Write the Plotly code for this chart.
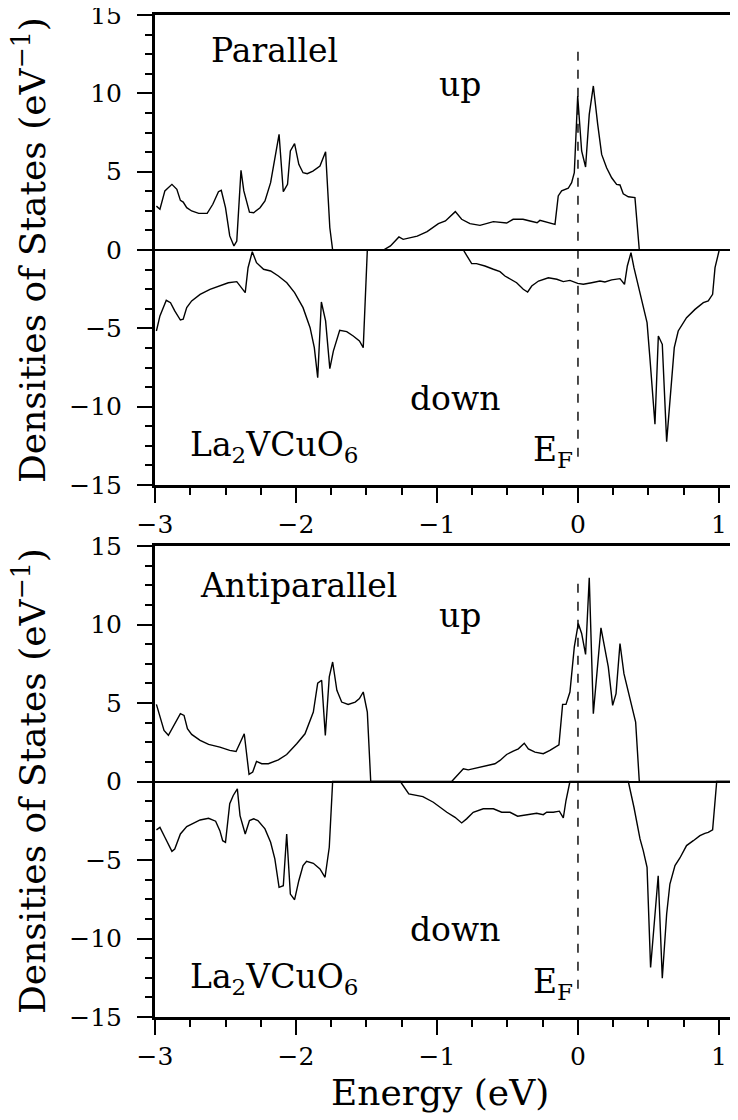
import plotly.graph_objects as go

# ---------------- data (energy in eV, DOS in states/eV) ----------------
par_up_x = [-2.99, -2.965, -2.93, -2.88, -2.845, -2.82, -2.80, -2.775, -2.74, -2.69, -2.63, -2.59,
            -2.55, -2.53, -2.50, -2.47, -2.44, -2.42, -2.39, -2.37, -2.33, -2.30, -2.255, -2.22,
            -2.18, -2.15, -2.12, -2.09, -2.06, -2.04, -2.01, -1.98, -1.95, -1.92, -1.88, -1.83,
            -1.79, -1.76, -1.74, -1.38, -1.33, -1.27, -1.24, -1.14, -1.07, -0.99, -0.94, -0.87,
            -0.825, -0.766, -0.695, -0.60, -0.506, -0.46, -0.39, -0.34, -0.29, -0.27, -0.22,
            -0.163, -0.14, -0.116, -0.069, -0.045, -0.026, -0.002, 0.026, 0.054, 0.08, 0.109,
            0.14, 0.168, 0.203, 0.239, 0.274, 0.298, 0.321, 0.357, 0.404, 0.435, 1.135]
par_up_y = [2.8, 2.6, 3.77, 4.19, 3.87, 3.17, 3.06, 2.7, 2.49, 2.34, 2.34, 2.92,
            3.72, 3.81, 2.7, 0.9, 0.26, 0.57, 5.08, 3.77, 2.42, 2.38, 2.7, 3.13,
            4.3, 5.89, 7.38, 3.72, 4.19, 6.32, 6.79, 5.47, 4.93, 4.87, 5.04, 5.36,
            6.27, 1.42, 0.0, 0.0, 0.26, 0.83, 0.68, 0.89, 1.17, 1.68, 1.85, 2.45,
            1.96, 1.68, 1.57, 1.81, 1.72, 1.96, 1.96, 1.85, 1.74, 1.89, 1.79,
            1.64, 3.45, 3.77, 3.94, 4.3, 4.93, 9.83, 6.32, 5.30, 8.66, 10.47,
            8.02, 6.1, 5.25, 4.61, 4.19, 4.15, 3.59, 3.40, 3.34, 0.0, 0.0]

par_dn_x = [-2.99, -2.965, -2.92, -2.89, -2.86, -2.82, -2.80, -2.775, -2.74, -2.68, -2.61, -2.54,
            -2.48, -2.42, -2.36, -2.34, -2.31, -2.28, -2.23, -2.18, -2.125, -2.065, -2.01, -1.95,
            -1.90, -1.87, -1.846, -1.82, -1.79, -1.76, -1.735, -1.69, -1.64, -1.594, -1.55,
            -1.523, -1.494, -0.813, -0.754, -0.72, -0.66, -0.60, -0.553, -0.518, -0.482, -0.435,
            -0.388, -0.357, -0.328, -0.28, -0.21, -0.15, -0.104, -0.057, -0.002, 0.038, 0.097,
            0.156, 0.191, 0.239, 0.298, 0.33, 0.35, 0.376, 0.397, 0.44, 0.49, 0.51, 0.546, 0.57,
            0.598, 0.629, 0.657, 0.683, 0.711, 0.77, 0.83, 0.889, 0.924, 0.955, 0.972, 1.002, 1.135]
par_dn_y = [-5.17, -4.21, -3.21, -3.36, -3.89, -4.47, -4.42, -3.68, -3.25, -2.83, -2.51, -2.30,
            -2.09, -2.02, -2.72, -1.13, -0.11, -0.81, -1.23, -1.34, -1.66, -2.09, -2.72, -3.68,
            -4.96, -6.23, -8.15, -3.32, -4.53, -7.57, -6.45, -5.13, -5.21, -5.49, -5.81,
            -6.23, 0.0, 0.0, -0.87, -0.87, -1.02, -1.23, -1.38, -1.66, -1.87, -2.09,
            -2.51, -2.68, -2.30, -1.98, -1.77, -1.87, -2.02, -1.94, -2.13, -2.19, -2.09,
            -1.98, -2.04, -1.91, -1.83, -2.19, -1.02, -0.17, -1.13, -2.83, -4.64, -6.87, -11.12, -5.49,
            -6.02, -12.23, -8.79, -6.23, -5.17, -4.32, -3.79, -3.36, -3.25, -2.83, -1.13, 0.0, 0.0]

anti_up_x = [-2.99, -2.965, -2.936, -2.905, -2.87, -2.82, -2.794, -2.77, -2.74, -2.68, -2.62, -2.54,
             -2.47, -2.425, -2.367, -2.333, -2.307, -2.28, -2.243, -2.196, -2.125, -2.066, -1.995,
             -1.936, -1.877, -1.846, -1.818, -1.792, -1.764, -1.74, -1.71, -1.676, -1.63, -1.58,
             -1.55, -1.523, -1.494, -1.47, -0.896, -0.849, -0.813, -0.778, -0.695, -0.636, -0.589,
             -0.553, -0.506, -0.459, -0.423, -0.381, -0.352, -0.305, -0.246, -0.199, -0.135,
             -0.109, -0.085, -0.057, -0.026, 0.002, 0.026, 0.054, 0.08, 0.109, 0.163, 0.215,
             0.246, 0.27, 0.298, 0.326, 0.369, 0.409, 0.435, 1.135]
anti_up_y = [4.91, 4.21, 3.25, 2.94, 3.47, 4.32, 4.21, 3.36, 3.0, 2.62, 2.36, 2.19,
             1.98, 1.91, 3.04, 0.45, 0.6, 1.28, 1.13, 1.13, 1.38, 1.72, 2.4,
             3.04, 4.42, 6.27, 6.45, 2.94, 6.66, 7.61, 5.81, 5.06, 4.91, 5.06,
             5.28, 5.7, 4.42, 0.0, 0.0, 0.49, 0.81, 0.74, 0.91, 1.04, 1.13,
             1.34, 1.72, 1.94, 2.08, 2.44, 2.08, 1.87, 1.77, 1.98, 2.34,
             4.91, 4.91, 5.70, 8.57, 10.06, 9.43, 8.09, 12.98, 4.32, 9.79, 7.30,
             4.85, 5.6, 8.79, 6.87, 5.28, 3.79, 0.0, 0.0]

anti_dn_x = [-2.99, -2.965, -2.93, -2.88, -2.86, -2.82, -2.775, -2.73, -2.68, -2.62, -2.57, -2.54,
             -2.52, -2.50, -2.47, -2.445, -2.416, -2.397, -2.36, -2.33, -2.30, -2.27, -2.22, -2.18,
             -2.15, -2.12, -2.09, -2.066, -2.04, -2.01, -1.98, -1.95, -1.925, -1.877, -1.83,
             -1.794, -1.764, -1.74, -1.26, -1.20, -1.17, -1.10, -1.026, -0.967, -0.93, -0.872,
             -0.825, -0.79, -0.743, -0.672, -0.60, -0.541, -0.482, -0.428, -0.364, -0.293, -0.246,
             -0.222, -0.175, -0.132, -0.104, -0.085, -0.057, 0.357, 0.397, 0.44, 0.463, 0.49,
             0.515, 0.569, 0.598, 0.629, 0.652, 0.688, 0.723, 0.77, 0.818, 0.865, 0.90, 0.924,
             0.955, 0.984, 1.135]
anti_dn_y = [-3.08, -2.92, -3.55, -4.45, -4.3, -3.34, -2.87, -2.66, -2.45, -2.34, -2.53, -3.13,
             -3.77, -3.87, -1.42, -0.89, -0.47, -2.17, -3.34, -2.49, -2.38, -2.49, -3.02, -3.87,
             -4.93, -6.74, -6.64, -3.34, -7.17, -7.53, -6.32, -5.36, -5.08, -5.21, -5.57,
             -6.1, -4.19, 0.0, 0.0, -0.79, -0.85, -0.96, -1.32, -1.74, -1.96, -2.28,
             -2.64, -2.38, -1.96, -1.74, -1.74, -1.96, -1.96, -2.21, -2.11, -2.02, -2.11,
             -1.96, -1.96, -1.89, -2.32, -1.21, 0.0, 0.0, -1.64, -3.66, -4.4, -5.47,
             -11.85, -6.0, -12.53, -8.44, -6.53, -5.36, -4.87, -4.08, -3.77, -3.45, -3.3, -3.24,
             -3.08, 0.0, 0.0]

x_ticks = [-3, -2, -1, 0, 1]
y_ticks = [-15, -10, -5, 0, 5, 10, 15]
x_range = [-3, 1.135]
y_range = [-15, 15]
ef_span = [-13.2, 13.0]

FONT = "DejaVu Serif"
W, H = 738, 1120

def px_x(p):
    return p / W

def px_y(p):
    return 1 - p / H

fig = go.Figure()
line_style = dict(color="black", width=1.4)
for xs, ys, xa, ya in [(par_up_x, par_up_y, "x", "y"), (par_dn_x, par_dn_y, "x", "y"),
                       (anti_up_x, anti_up_y, "x2", "y2"), (anti_dn_x, anti_dn_y, "x2", "y2")]:
    fig.add_trace(go.Scatter(x=xs, y=ys, mode="lines", line=line_style,
                             xaxis=xa, yaxis=ya, showlegend=False, hoverinfo="skip"))

dom_x = [px_x(155), 1.0]
dom_top = [px_y(485), px_y(15)]
dom_bot = [px_y(1017), px_y(546)]

tick_font = dict(family=FONT, size=25, color="black")

def xaxis_cfg(anchor):
    return dict(domain=dom_x, anchor=anchor, range=x_range, tickvals=x_ticks,
                ticks="outside", ticklen=15, tickwidth=1.5, tickcolor="black",
                minor=dict(dtick=0.25, ticks="outside", ticklen=7, tickwidth=1.5,
                           tickcolor="black", showgrid=False),
                showline=True, linewidth=3, linecolor="black", mirror=True,
                showgrid=False, zeroline=False, automargin=False,
                ticklabeloverflow="allow", tickfont=tick_font)

def yaxis_cfg(anchor, dom):
    return dict(domain=dom, anchor=anchor, range=y_range, tickvals=y_ticks,
                ticks="outside", ticklen=15, tickwidth=1.5, tickcolor="black",
                minor=dict(tick0=0, dtick=1.25, ticks="outside", ticklen=7, tickwidth=1.5,
                           tickcolor="black", showgrid=False),
                showline=True, linewidth=3, linecolor="black", mirror=False,
                showgrid=False, zeroline=True, zerolinecolor="black", zerolinewidth=1.5,
                automargin=False, ticklabeloverflow="allow",
                tickfont=tick_font, ticklabelstandoff=10)

# width/height are left to the page div (sized below) so that the body margin can be cancelled
fig.update_layout(
    template="none", autosize=True,
    margin=dict(l=0, r=0, t=0, b=0, pad=0),
    paper_bgcolor="white", plot_bgcolor="white",
    xaxis=xaxis_cfg("y"), yaxis=yaxis_cfg("x", dom_top),
    xaxis2=xaxis_cfg("y2"), yaxis2=yaxis_cfg("x2", dom_bot),
    font=dict(family=FONT, color="black"),
)

# Fermi level dashed lines
for xr, yr in [("x", "y"), ("x2", "y2")]:
    fig.add_shape(type="line", xref=xr, yref=yr, x0=0, x1=0, y0=ef_span[0], y1=ef_span[1],
                  line=dict(color="black", width=1.4, dash="dash"))

ann_font = dict(family=FONT, size=33, color="black")
labels = [
    ("x", "y", -2.152, 12.72, "Parallel"),
    ("x", "y", -0.84, 10.55, "up"),
    ("x", "y", -0.872, -9.45, "down"),
    ("x", "y", -2.156, -12.55, "La<sub>2</sub>VCuO<sub>6</sub>"),
    ("x", "y", -0.177, -12.85, "E<sub>F</sub>"),
    ("x2", "y2", -1.98, 12.5, "Antiparallel"),
    ("x2", "y2", -0.84, 10.55, "up"),
    ("x2", "y2", -0.872, -9.45, "down"),
    ("x2", "y2", -2.156, -12.55, "La<sub>2</sub>VCuO<sub>6</sub>"),
    ("x2", "y2", -0.177, -12.85, "E<sub>F</sub>"),
]
for xr, yr, x, y, t in labels:
    fig.add_annotation(xref=xr, yref=yr, x=x, y=y, text=t, showarrow=False,
                       xanchor="center", yanchor="middle", font=ann_font)

title_font = dict(family=FONT, size=36, color="black")
for yc in [px_y(250), px_y(781)]:
    fig.add_annotation(xref="paper", yref="paper", x=px_x(30), y=yc, textangle=-90,
                       text="Densities of States (eV<sup>−1</sup>)", showarrow=False,
                       xanchor="center", yanchor="middle", font=title_font)
fig.add_annotation(xref="paper", yref="paper", x=px_x(440), y=px_y(1070),
                   text="Energy (eV)", showarrow=False, xanchor="center", yanchor="top",
                   font=title_font)

fig.write_html("out.html",
               default_width=f"{W}px",
               default_height=f"{H}px; margin:-8px 0 0 -8px",
               config={"responsive": False})
